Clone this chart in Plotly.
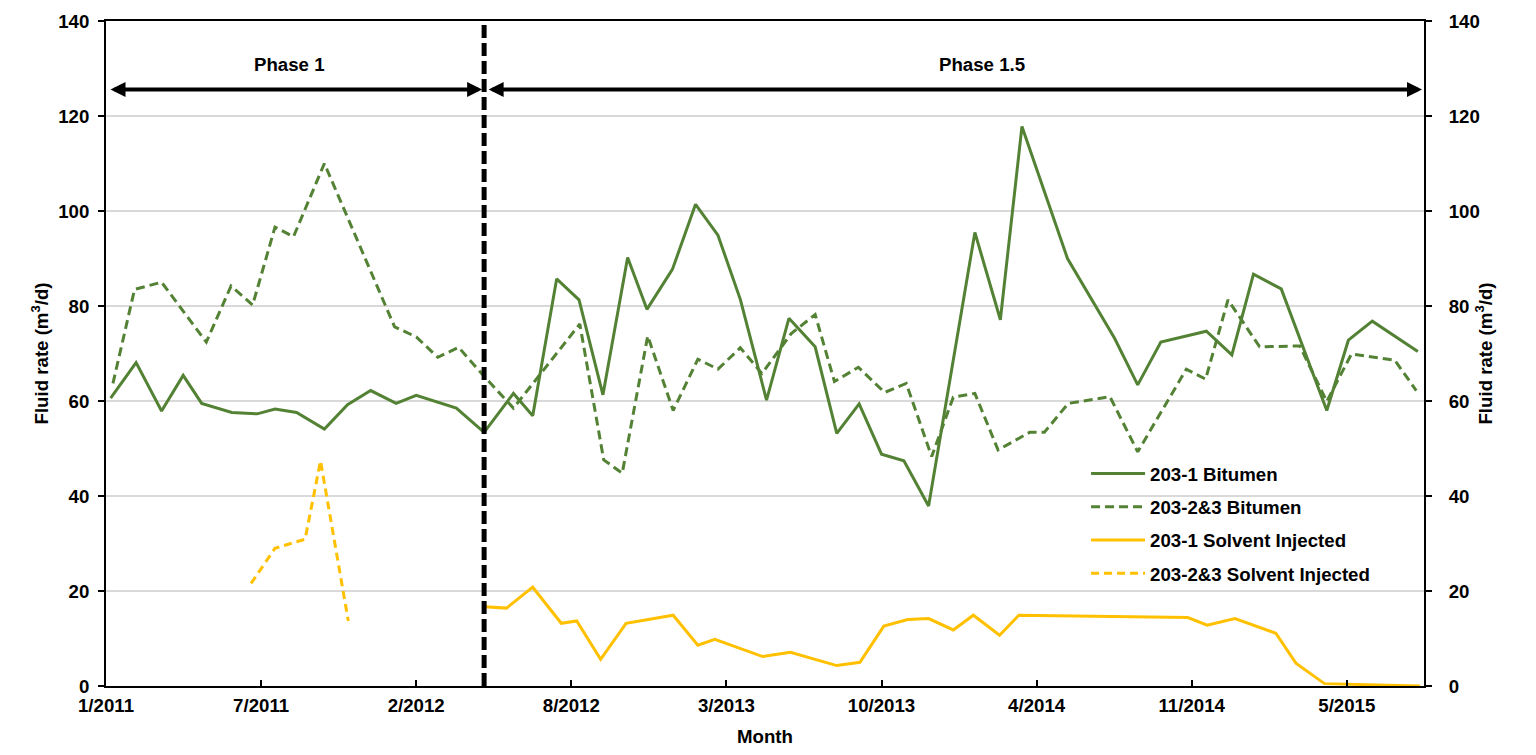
import plotly.graph_objects as go
from datetime import date, timedelta

# ---------------- data ----------------
bit1_dates = ["2011-01-07", "2011-02-09", "2011-03-14", "2011-04-11", "2011-05-05", "2011-06-13",
              "2011-07-16", "2011-08-08", "2011-09-05", "2011-10-11", "2011-11-10", "2011-12-10",
              "2012-01-12", "2012-02-07", "2012-03-30", "2012-05-05", "2012-06-12", "2012-07-07",
              "2012-08-07", "2012-09-05", "2012-10-06", "2012-11-07", "2012-12-02", "2013-01-04",
              "2013-02-03", "2013-03-04", "2013-04-02", "2013-05-06", "2013-06-04", "2013-07-08",
              "2013-08-05", "2013-09-03", "2013-10-02", "2013-10-31", "2013-12-02", "2014-01-31",
              "2014-03-05", "2014-04-02", "2014-05-31", "2014-07-31", "2014-08-30", "2014-09-29",
              "2014-11-27", "2014-12-30", "2015-01-27", "2015-03-04", "2015-05-02", "2015-05-30",
              "2015-06-30", "2015-08-28"]
bit1_vals = [60.6, 68.1, 57.9, 65.4, 59.5, 57.6,
             57.3, 58.3, 57.6, 54.1, 59.2, 62.2,
             59.5, 61.2, 58.5, 53.4, 61.6, 56.9,
             85.7, 81.3, 61.3, 90.2, 79.3, 87.7,
             101.4, 94.9, 81.4, 60.2, 77.4, 71.4,
             53.2, 59.4, 48.8, 47.4, 37.9, 95.5,
             77.1, 117.8, 90.0, 73.2, 63.4, 72.4,
             74.7, 69.7, 86.7, 83.6, 58.0, 72.8,
             76.8, 70.4]

bit23_dates = ["2011-01-10", "2011-02-07", "2011-03-14", "2011-05-11", "2011-06-12", "2011-07-10",
               "2011-08-08", "2011-09-01", "2011-10-11", "2012-01-10", "2012-02-07", "2012-03-06",
               "2012-04-02", "2012-05-05", "2012-06-12", "2012-09-06", "2012-10-07", "2012-10-31",
               "2012-12-03", "2013-01-05", "2013-02-06", "2013-03-04", "2013-04-02", "2013-04-30",
               "2013-06-07", "2013-07-08", "2013-08-02", "2013-09-02", "2013-10-06", "2013-11-03",
               "2013-12-06", "2014-01-03", "2014-01-31", "2014-03-02", "2014-04-12", "2014-05-01",
               "2014-06-01", "2014-07-25", "2014-08-30", "2014-11-01", "2014-11-26", "2014-12-25",
               "2015-02-04", "2015-03-28", "2015-05-02", "2015-06-03", "2015-07-29", "2015-08-26"]
bit23_vals = [63.7, 83.5, 85.0, 72.4, 84.2, 80.2,
              96.6, 94.6, 110.0, 75.6, 73.5, 69.2,
              71.3, 65.2, 58.5, 76.2, 47.6, 44.8,
              73.7, 58.0, 68.8, 66.7, 71.2, 65.8,
              74.2, 78.2, 64.1, 67.1, 61.8, 63.7,
              48.3, 60.8, 61.6, 49.7, 53.4, 53.4,
              59.5, 60.9, 49.3, 66.7, 64.6, 81.3,
              71.4, 71.6, 59.9, 69.9, 68.6, 62.2]

sol1_dates = ["2012-05-05", "2012-06-03", "2012-07-07", "2012-08-13", "2012-09-02", "2012-10-03",
              "2012-11-05", "2013-01-05", "2013-02-06", "2013-02-28", "2013-05-01", "2013-06-06",
              "2013-08-05", "2013-09-04", "2013-10-05", "2013-11-05", "2013-12-02", "2014-01-03",
              "2014-01-29", "2014-03-04", "2014-03-29", "2014-11-03", "2014-11-28", "2015-01-03",
              "2015-02-25", "2015-03-23", "2015-04-29", "2015-08-31"]
sol1_vals = [16.7, 16.4, 20.8, 13.2, 13.7, 5.6,
             13.2, 14.9, 8.6, 9.8, 6.2, 7.1,
             4.3, 5.0, 12.6, 14.0, 14.2, 11.8,
             14.9, 10.7, 14.9, 14.4, 12.8, 14.2,
             11.1, 4.8, 0.5, 0.0]

sol23_dates = ["2011-07-08", "2011-08-08", "2011-09-16", "2011-10-06", "2011-11-11"]
sol23_vals = [21.6, 29.0, 30.9, 47.4, 13.7]

series_names = ["203-1 Bitumen", "203-2&3 Bitumen", "203-1 Solvent Injected", "203-2&3 Solvent Injected"]

AXIS_START = date(2011, 1, 1)
AXIS_END = date(2015, 9, 5)
TICK_STEP_DAYS = 201
x_tick_labels = ["1/2011", "7/2011", "2/2012", "8/2012", "3/2013", "10/2013", "4/2014", "11/2014", "5/2015"]
x_tick_vals = [(AXIS_START + timedelta(days=TICK_STEP_DAYS * i)).isoformat() for i in range(len(x_tick_labels))]
y_tick_vals = [0, 20, 40, 60, 80, 100, 120, 140]

PHASE_CHANGE = "2012-05-05"
phase_labels = ["Phase 1", "Phase 1.5"]
phase_label_dates = ["2011-08-27", "2014-02-09"]
PHASE_ARROW_LEVEL = 125.6
PHASE_TEXT_LEVEL = 130.8

# ---------------- styles ----------------
GREEN = "#548235"
GOLD = "#FFC000"
FONT = "Liberation Sans, Arial, sans-serif"
FS = 18.67
bold = dict(family=FONT, size=FS, color="black", weight="bold")

fig = go.Figure()
fig.add_trace(go.Scatter(x=bit1_dates, y=bit1_vals, mode="lines", name=series_names[0],
                         legendgroup="a", line=dict(color=GREEN, width=3)))
fig.add_trace(go.Scatter(x=bit23_dates, y=bit23_vals, mode="lines", name=series_names[1],
                         legendgroup="b", line=dict(color=GREEN, width=3, dash="9px,5px")))
fig.add_trace(go.Scatter(x=sol1_dates, y=sol1_vals, mode="lines", name=series_names[2],
                         legendgroup="c", yaxis="y2", line=dict(color=GOLD, width=3)))
fig.add_trace(go.Scatter(x=sol23_dates, y=sol23_vals, mode="lines", name=series_names[3],
                         legendgroup="d", yaxis="y2", line=dict(color=GOLD, width=3, dash="8px,5px")))

# phase separator
fig.add_shape(type="line", xref="x", yref="paper", x0=PHASE_CHANGE, x1=PHASE_CHANGE, y0=0, y1=1,
              line=dict(color="black", width=5, dash="13px,5px"))

ann = []
arrow_spans = [(AXIS_START.isoformat(), PHASE_CHANGE), (PHASE_CHANGE, AXIS_END.isoformat())]
for (a, b) in arrow_spans:
    ann.append(dict(x=b, y=PHASE_ARROW_LEVEL, ax=a, ay=PHASE_ARROW_LEVEL, xref="x", yref="y",
                    axref="x", ayref="y", text="", showarrow=True, arrowside="end+start",
                    arrowhead=2, startarrowhead=2, arrowsize=0.75, startarrowsize=0.75,
                    arrowwidth=4, arrowcolor="black", standoff=2, startstandoff=3))
for lbl, d in zip(phase_labels, phase_label_dates):
    ann.append(dict(x=d, y=PHASE_TEXT_LEVEL, xref="x", yref="y", text=lbl, showarrow=False,
                    font=bold))

# page has an 8px body margin: plot area should span x 106..1424, y 21..686 on the page
fig.update_layout(
    width=1520, height=739,
    margin=dict(l=98, r=104, t=13, b=61, autoexpand=False),
    paper_bgcolor="white", plot_bgcolor="white",
    font=bold,
    showlegend=True,
    legend=dict(x=0.7436, y=0.3475, xanchor="left", yanchor="top", bgcolor="rgba(0,0,0,0)",
                font=bold, tracegroupgap=6, itemwidth=54),
    annotations=ann,
    xaxis=dict(type="date", range=[AXIS_START.isoformat(), AXIS_END.isoformat()],
               tickmode="array", tickvals=x_tick_vals, ticktext=x_tick_labels,
               ticks="inside", ticklen=6, tickwidth=2, tickcolor="black",
               showline=True, linewidth=2, linecolor="black", mirror=True,
               showgrid=False, zeroline=False, tickfont=bold, ticklabelstandoff=2,
               automargin=False,
               title=dict(text="Month", font=bold, standoff=22)),
    yaxis=dict(range=[0, 140], tickmode="array", tickvals=y_tick_vals,
               ticks="outside", ticklen=6, tickwidth=2, tickcolor="black",
               showline=True, linewidth=2, linecolor="black",
               showgrid=True, gridcolor="#d9d9d9", gridwidth=1.5, zeroline=False,
               tickfont=bold, ticklabelstandoff=5, automargin=False,
               title=dict(text="Fluid rate (m<sup>3</sup>/d)", font=bold, standoff=5)),
    yaxis2=dict(range=[0, 140], tickmode="array", tickvals=y_tick_vals, overlaying="y", side="right",
                ticks="outside", ticklen=6, tickwidth=2, tickcolor="black",
                showline=True, linewidth=2, linecolor="black",
                showgrid=False, zeroline=False, tickfont=bold, ticklabelstandoff=13,
                automargin=False,
                title=dict(text="Fluid rate (m<sup>3</sup>/d)", font=bold, standoff=0)),
)

fig.write_html("out.html")
